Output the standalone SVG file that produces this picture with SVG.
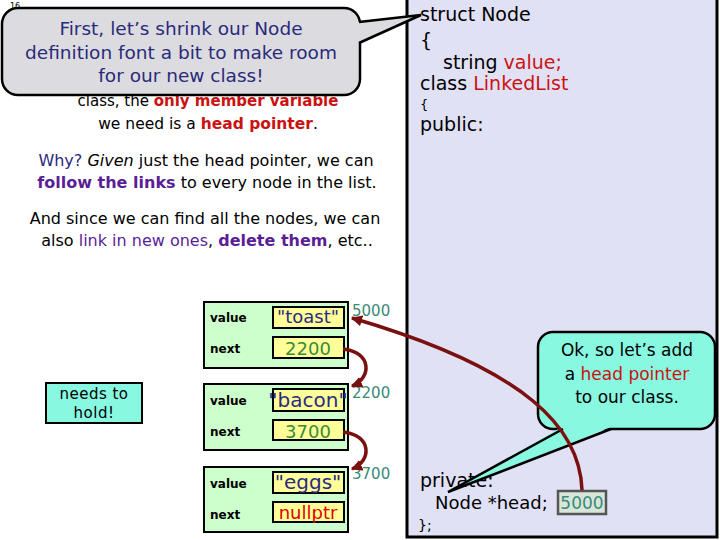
<svg xmlns="http://www.w3.org/2000/svg" width="720" height="540" viewBox="0 0 720 540">
<style>
text{font-family:"DejaVu Sans","Liberation Sans",sans-serif;}
.body{font-size:16px;fill:#000;}
.red{fill:#CC1111;}
.navy{fill:#2A2A7A;}
.purple{fill:#5A1E96;}
.code{font-size:19px;fill:#000;}
.lbl{font-size:12px;font-weight:bold;fill:#000;}
.addr{font-size:15px;fill:#3A8A78;}
.node{fill:#CCFFCC;stroke:#000;stroke-width:2;}
.cell{fill:#FFFF99;stroke:#000;stroke-width:2;}
.val{font-size:18px;fill:#2A2A80;text-anchor:middle;}
.num{font-size:18px;fill:#3A8A3A;text-anchor:middle;}
.link{fill:none;stroke:#7A1010;stroke-width:3.5;}
.bubble{stroke:#000;stroke-width:2.5;}
</style>
<defs>
<marker id="ah" viewBox="0 0 10 10" refX="9" refY="5" markerWidth="3.2" markerHeight="3.2" orient="auto" markerUnits="strokeWidth">
<path d="M0,0 L10,5 L0,10 z" fill="#7A1010"/>
</marker>
</defs>
<rect x="0" y="0" width="720" height="540" fill="#FFFFFF"/>
<text x="10" y="9" font-size="8" fill="#000">16</text>

<g id="code-panel">
<rect x="407" y="-2" width="310" height="539" fill="#E1E1F5" stroke="#000" stroke-width="3"/>
<text class="code" x="420" y="21">struct Node</text>
<text class="code" x="420" y="47">{</text>
<text class="code" x="443" y="69">string <tspan class="red">value;</tspan></text>
<text class="code" x="420" y="90">class <tspan class="red">LinkedList</tspan></text>
<text x="420" y="109" font-size="13" fill="#000">{</text>
<text class="code" x="420" y="131">public:</text>
<text class="code" x="420" y="487">private:</text>
<text class="code" x="435" y="509" style="font-size:18px">Node *head;</text>
<text x="418" y="530" font-size="14" fill="#000">};</text>
</g>

<g id="head-box">
<rect x="558" y="491" width="48" height="23" fill="#D8E6DA" stroke="#555" stroke-width="2.5"/>
<text x="582" y="509" font-size="17" fill="#3A8A78" text-anchor="middle">5000</text>
</g>

<g id="intro-text">
<text class="body" x="208" y="106" text-anchor="middle" style="font-size:15px">class, the <tspan class="red" font-weight="bold">only member variable</tspan></text>
<text class="body" x="208" y="129" text-anchor="middle" style="font-size:15.5px">we need is a <tspan class="red" font-weight="bold">head pointer</tspan>.</text>
<text class="body" x="206" y="166" text-anchor="middle"><tspan class="navy">Why?</tspan> <tspan font-style="italic">Given</tspan> just the head pointer, we can</text>
<text class="body" x="207" y="188" text-anchor="middle"><tspan class="purple" font-weight="bold">follow the links</tspan> to every node in the list.</text>
<text class="body" x="205" y="224" text-anchor="middle">And since we can find all the nodes, we can</text>
<text class="body" x="207" y="246" text-anchor="middle">also <tspan class="purple">link in new ones</tspan>, <tspan class="purple" font-weight="bold">delete them</tspan>, etc..</text>
</g>

<g id="callout-shrink">
<rect class="bubble" x="2" y="8" width="358" height="87" rx="16" fill="#DCDCE0"/>
<polygon points="358,22 421,15 358,43" fill="#DCDCE0"/>
<polyline points="359,22 421,15 359,43" fill="none" stroke="#000" stroke-width="2.5"/>
<text x="181" y="35" font-size="18.5" fill="#2A2A7A" text-anchor="middle">First, let’s shrink our Node</text>
<text x="181" y="59" font-size="18.5" fill="#2A2A7A" text-anchor="middle">definition font a bit to make room</text>
<text x="181" y="82" font-size="18.5" fill="#2A2A7A" text-anchor="middle">for our new class!</text>
</g>

<g id="needs-box">
<rect x="46" y="383" width="96" height="40" fill="#88F8E0" stroke="#000" stroke-width="2"/>
<text x="94" y="399" font-size="15" fill="#000" text-anchor="middle" letter-spacing="0.5">needs to</text>
<text x="94" y="418" font-size="15" fill="#000" text-anchor="middle" letter-spacing="0.5">hold!</text>
</g>

<g id="node-toast">
<rect class="node" x="204" y="302" width="144" height="66"/>
<rect class="cell" x="273" y="307" width="71" height="21"/>
<rect class="cell" x="273" y="337" width="71" height="21"/>
<text class="lbl" x="210" y="322">value</text>
<text class="lbl" x="210" y="353">next</text>
<text class="val" x="308" y="323">"toast"</text>
<text class="num" x="308" y="355">2200</text>
<text class="addr" x="352" y="316">5000</text>
</g>

<g id="node-bacon">
<rect class="node" x="204" y="384" width="144" height="66"/>
<rect class="cell" x="273" y="389" width="71" height="22"/>
<rect class="cell" x="273" y="420" width="71" height="20"/>
<text class="lbl" x="210" y="405">value</text>
<text class="lbl" x="210" y="436">next</text>
<text class="val" x="308" y="407" style="font-size:20px">"bacon"</text>
<text class="num" x="308" y="438">3700</text>
<text class="addr" x="352" y="398">2200</text>
</g>

<g id="node-eggs">
<rect class="node" x="204" y="467" width="144" height="65"/>
<rect class="cell" x="273" y="472" width="71" height="21"/>
<rect class="cell" x="273" y="502" width="71" height="20"/>
<text class="lbl" x="210" y="488">value</text>
<text class="lbl" x="210" y="519">next</text>
<text class="val" x="308" y="489" style="font-size:20px">"eggs"</text>
<text x="308" y="519" font-size="18" fill="#E00000" text-anchor="middle">nullptr</text>
<text class="addr" x="352" y="479">3700</text>
</g>

<g id="callout-head">
<rect class="bubble" x="538" y="332" width="177" height="97" rx="15" fill="#88F8E0"/>
<polygon points="562,427 448,492 611,427" fill="#88F8E0"/>
<polyline points="563,429 448,492 611,429" fill="none" stroke="#000" stroke-width="2.5"/>
<text x="627" y="356" font-size="17" fill="#000" text-anchor="middle">Ok, so let’s add</text>
<text x="627" y="380" font-size="17" fill="#000" text-anchor="middle">a <tspan class="red">head pointer</tspan></text>
<text x="627" y="403" font-size="17" fill="#000" text-anchor="middle">to our class.</text>
</g>

<g id="connectors">
<path class="link" d="M582,490 C580,430 530,370 352,318" marker-end="url(#ah)"/>
<path class="link" d="M343,349 C372,352 372,378 352,386" marker-end="url(#ah)"/>
<path class="link" d="M343,432 C372,435 372,461 352,469" marker-end="url(#ah)"/>
</g>
</svg>
